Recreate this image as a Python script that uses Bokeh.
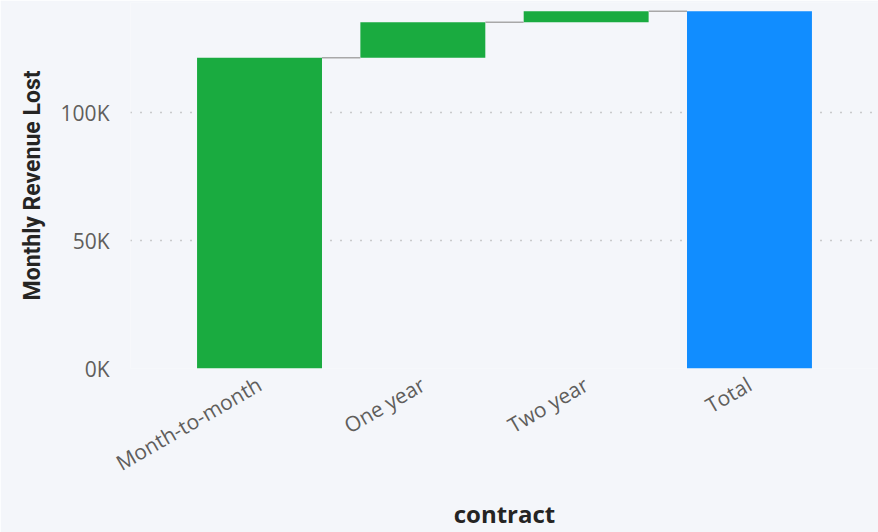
import math
import numpy as np
from bokeh.plotting import figure
from bokeh.models import ColumnDataSource, FactorRange, Range1d, FixedTicker
from bokeh.transform import dodge
from bokeh.embed import file_html
from bokeh.resources import INLINE

categories = ["Month-to-month", "One year", "Two year", "Total"]
revenue_lost = [121400, 13900, 4300]
y_ticks = [0, 50000, 100000]
y_tick_labels = ["0K", "50K", "100K"]

BG = "#f4f6fa"
GREEN = "#1aab40"
BLUE = "#118dff"

tops = list(np.cumsum(revenue_lost))
bottoms = [0] + tops[:-1]
total = tops[-1]
bar_bottom = bottoms + [0]
bar_top = tops + [total]
colors = [GREEN] * len(revenue_lost) + [BLUE]

src = ColumnDataSource(dict(cat=categories, bottom=bar_bottom, top=bar_top, color=colors))
conn = ColumnDataSource(dict(c0=categories[:-1], c1=categories[1:], y=tops))

p = figure(width=878, height=532, output_backend="svg", toolbar_location=None,
           x_range=FactorRange(*categories, range_padding=0.145),
           y_range=Range1d(0, 143000),
           min_border_left=130, min_border_right=0, min_border_top=2, min_border_bottom=164)

p.background_fill_color = BG
p.border_fill_color = BG
p.outline_line_color = None

BW = 0.765
p.vbar(x="cat", bottom="bottom", top="top", width=BW, color="color", source=src, line_color=None)
p.segment(x0=dodge("c0", BW / 2, range=p.x_range), x1=dodge("c1", -BW / 2, range=p.x_range),
          y0="y", y1="y", source=conn, line_color="#a8a8a8", line_width=1.5)

p.xgrid.grid_line_color = None
p.ygrid.grid_line_color = "#9e9e9e"
p.ygrid.grid_line_dash = "1 9"
p.ygrid.grid_line_width = 1.3

p.yaxis.ticker = FixedTicker(ticks=y_ticks)
p.yaxis.major_label_overrides = {t: l for t, l in zip(y_ticks, y_tick_labels)}

for ax in (p.xaxis[0], p.yaxis[0]):
    ax.axis_line_color = None
    ax.major_tick_line_color = None
    ax.minor_tick_line_color = None
    ax.major_label_text_font = "Open Sans"
    ax.major_label_text_font_size = "21px"
    ax.major_label_text_color = "#605e5c"
    ax.axis_label_text_color = "#252423"

p.yaxis.axis_label = "Monthly Revenue Lost"
p.yaxis.axis_label_text_font = "Roboto"
p.yaxis.axis_label_text_font_style = "bold"
p.yaxis.axis_label_text_font_size = "23px"
p.yaxis.major_label_standoff = 15
p.yaxis.axis_label_standoff = 12

p.xaxis.axis_label = "contract"
p.xaxis.axis_label_text_font = "Open Sans"
p.xaxis.axis_label_text_font_style = "bold"
p.xaxis.axis_label_text_font_size = "24px"
p.xaxis.major_label_orientation = math.pi / 6
p.xaxis.major_label_standoff = 8
p.xaxis.axis_label_standoff = 5

open("out.html", "w").write(file_html(p, INLINE))
